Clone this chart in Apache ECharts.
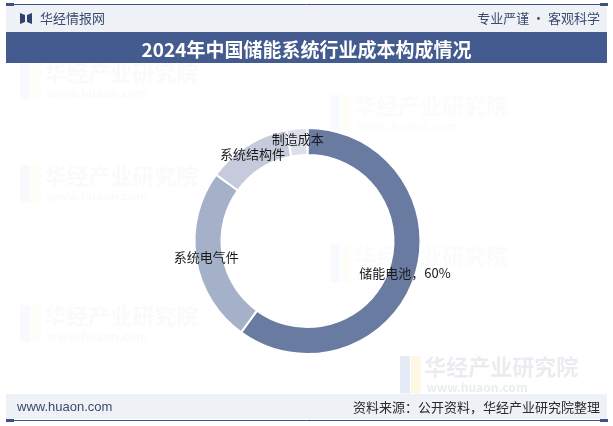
<!DOCTYPE html>
<html>
<head>
<meta charset="utf-8">
<script src="https://cdn.jsdelivr.net/npm/echarts@6/dist/echarts.min.js"></script>
<style>
html,body{margin:0;padding:0;background:#fff;}
#chart{width:613px;height:426px;}
</style>
</head>
<body>
<div id="chart"></div>
<script>
var categories = ['储能电池', '系统电气件', '系统结构件', '制造成本'];
var values = [60, 25, 12, 3];
var sliceColors = ['#6a7ba2', '#a5b0c9', '#c5cbdb', '#dce0ea'];
var showValue = [true, false, false, false];

var titleText = '2024年中国储能系统行业成本构成情况';
var siteName = '华经情报网';
var slogan = '专业严谨 • 客观科学';
var footerUrl = 'www.huaon.com';
var sourceText = '资料来源：公开资料，华经产业研究院整理';

var font = '"Noto Sans CJK SC", "Noto Sans", sans-serif';

var chart = echarts.init(document.getElementById('chart'), null, {renderer: 'canvas'});

var pieData = categories.map(function (c, i) {
  return {
    name: c,
    value: values[i],
    itemStyle: {color: sliceColors[i]},
    label: {formatter: showValue[i] ? '{b}，{c}%' : '{b}'}
  };
});

function wm(x, y, size, op) {
  return {
    type: 'group', x: x, y: y, silent: true, z: 0,
    children: [
      {type: 'rect', shape: {x: 0, y: 0, width: size * 0.45, height: size * 1.7}, style: {fill: 'rgba(120,150,210,' + op + ')'}},
      {type: 'rect', shape: {x: size * 0.5, y: 0, width: size * 0.45, height: size * 1.7}, style: {fill: 'rgba(250,215,120,' + op + ')'}},
      {type: 'text', x: size * 1.1, y: 0, style: {text: '华经产业研究院', font: 'bold ' + size + 'px ' + font, fill: 'rgba(150,160,180,' + op + ')'}},
      {type: 'text', x: size * 1.2, y: size * 1.15, style: {text: 'www.huaon.com', font: 'bold ' + (size * 0.55) + 'px ' + font, fill: 'rgba(150,160,180,' + op + ')'}}
    ]
  };
}

var option = {
  backgroundColor: '#ffffff',
  animation: false,
  title: {
    text: titleText,
    left: 'center',
    top: 35,
    textStyle: {color: '#ffffff', fontSize: 19, fontWeight: 'bold', fontFamily: '"Noto Sans CJK SC", serif'}
  },
  graphic: [
    wm(20, 62, 22, 0.05),
    wm(20, 165, 22, 0.05),
    wm(20, 305, 22, 0.05),
    wm(330, 95, 22, 0.045),
    wm(330, 245, 22, 0.045),
    wm(400, 356, 22, 0.2),
    // header
    {type: 'rect', shape: {x: 6, y: 5, width: 601, height: 27}, style: {fill: '#eef1f6'}, z: 1},
    {type: 'line', shape: {x1: 6, y1: 4.5, x2: 607, y2: 4.5}, style: {stroke: '#3d5283', lineWidth: 1}, z: 2},
    {type: 'rect', shape: {x: 6, y: 3, width: 8, height: 3}, style: {fill: '#3d5283'}, z: 2},
    {type: 'rect', shape: {x: 600, y: 3, width: 8, height: 3}, style: {fill: '#3d5283'}, z: 2},
    {type: 'polygon', shape: {points: [[20, 13], [25, 15], [25, 22], [20, 24]]}, style: {fill: '#2f4170'}, z: 2},
    {type: 'polygon', shape: {points: [[32, 13], [27, 15], [27, 22], [32, 24]]}, style: {fill: '#2f4170'}, z: 2},
    {type: 'text', x: 40, y: 18, style: {text: siteName, font: '13px ' + font, fill: '#3b4a6e', textVerticalAlign: 'middle'}, z: 2},
    {type: 'text', x: 600, y: 18, style: {text: slogan, font: '13px ' + font, fill: '#3b4a6e', textAlign: 'right', textVerticalAlign: 'middle'}, z: 2},
    {type: 'rect', shape: {x: 6, y: 32, width: 601, height: 31}, style: {fill: '#435b8e'}, z: 1},
    // footer
    {type: 'rect', shape: {x: 6, y: 394, width: 601, height: 25}, style: {fill: '#eef1f6'}, z: 1},
    {type: 'line', shape: {x1: 6, y1: 420.5, x2: 607, y2: 420.5}, style: {stroke: '#3d5283', lineWidth: 1}, z: 2},
    {type: 'rect', shape: {x: 6, y: 419, width: 8, height: 3}, style: {fill: '#3d5283'}, z: 2},
    {type: 'rect', shape: {x: 600, y: 419, width: 8, height: 3}, style: {fill: '#3d5283'}, z: 2},
    {type: 'text', x: 17, y: 407, style: {text: footerUrl, font: '13px "Liberation Sans", Arial, sans-serif', fill: '#3b4a6e', textVerticalAlign: 'middle'}, z: 2},
    {type: 'text', x: 600, y: 407, style: {text: sourceText, font: '13px ' + font, fill: '#2b2b2b', textAlign: 'right', textVerticalAlign: 'middle'}, z: 2}
  ],
  series: [{
    type: 'pie',
    center: [307.5, 241],
    radius: [86, 113],
    startAngle: 90,
    clockwise: true,
    avoidLabelOverlap: false,
    itemStyle: {borderColor: '#ffffff', borderWidth: 2},
    label: {
      show: true,
      position: 'inside',
      color: '#1a1a1a',
      fontSize: 13,
      fontFamily: font
    },
    labelLine: {show: false},
    emphasis: {disabled: true},
    data: pieData
  }]
};
chart.setOption(option);
</script>
</body>
</html>
